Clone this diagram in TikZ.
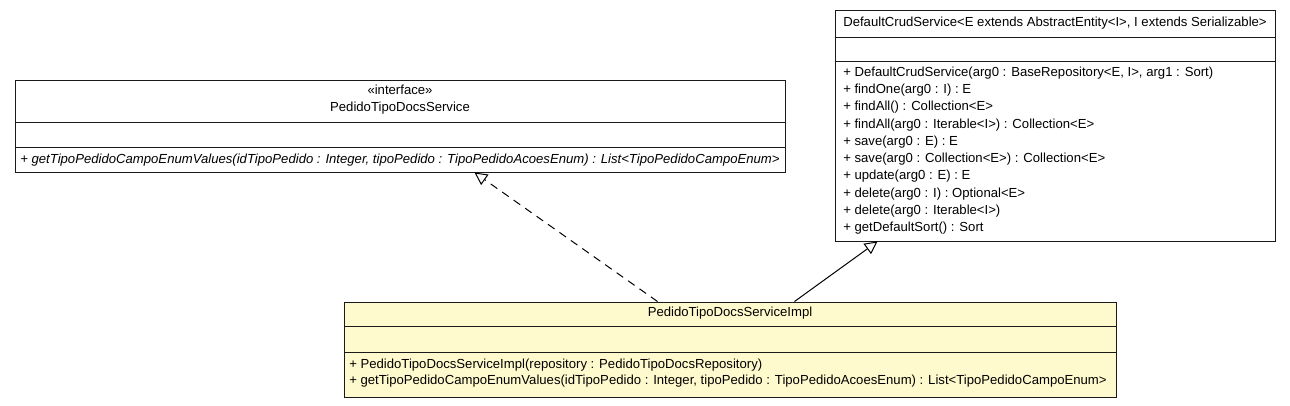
\documentclass[tikz,border=0pt]{standalone}
\usepackage{fontspec}
\setmainfont{Liberation Sans}
\usetikzlibrary{positioning,arrows.meta,calc,fit}
\definecolor{umlyellow}{HTML}{FFFACD}
\definecolor{umlline}{HTML}{1A1A1A}

\begin{document}
\begin{tikzpicture}[x=0.75pt, y=-0.75pt, font=\fontsize{9.85}{12}\selectfont,
    classbox/.style={draw=umlline, line width=0.75pt, inner sep=0pt},
    title/.style={inner sep=0pt},
    member/.style={anchor=west, inner sep=0pt},
    realize/.style={line width=0.75pt, dash pattern=on 6pt off 4.5pt, -{Triangle[open, fill=white, length=9.5pt, width=9.5pt]}},
    extend/.style={line width=0.75pt, -{Triangle[open, fill=white, length=9.5pt, width=9.5pt]}}]
  \useasboundingbox (0,0) rectangle (1290,405);

  \node[classbox, fit={(15,80) (785,172)}] (iface) {};
  \draw[umlline, line width=0.75pt] (iface.west |- 0,122) -- (iface.east |- 0,122);
  \draw[umlline, line width=0.75pt] (iface.west |- 0,147) -- (iface.east |- 0,147);
  \node[title] (ifaceStereo) at (400,90) {«interface»};
  \node[title] (ifaceName) at (400,108) {PedidoTipoDocsService};
  \node[member] (ifaceOp) at (20,160) {\itshape + getTipoPedidoCampoEnumValues(idTipoPedido : Integer, tipoPedido : TipoPedidoAcoesEnum) : List<TipoPedidoCampoEnum>};

  \node[classbox, fit={(835,10) (1275,241)}] (crud) {};
  \draw[umlline, line width=0.75pt] (crud.west |- 0,37) -- (crud.east |- 0,37);
  \draw[umlline, line width=0.75pt] (crud.west |- 0,61) -- (crud.east |- 0,61);
  \node[title] (crudName) at (1055,23) {DefaultCrudService<E extends AbstractEntity<I>, I extends Serializable>};
  \foreach \op [count=\i] in {{+ DefaultCrudService(arg0 : BaseRepository<E, I>, arg1 : Sort)},
      {+ findOne(arg0 : I) : E}, {+ findAll() : Collection<E>},
      {+ findAll(arg0 : Iterable<I>) : Collection<E>}, {+ save(arg0 : E) : E},
      {+ save(arg0 : Collection<E>) : Collection<E>}, {+ update(arg0 : E) : E},
      {+ delete(arg0 : I) : Optional<E>}, {+ delete(arg0 : Iterable<I>)},
      {+ getDefaultSort() : Sort}}
    \node[member] (crudOp\i) at (843,{73+17.25*(\i-1)}) {\op};

  \node[classbox, fill=umlyellow, fit={(344,302) (1116,397)}] (impl) {};
  \draw[umlline, line width=0.75pt] (impl.west |- 0,326) -- (impl.east |- 0,326);
  \draw[umlline, line width=0.75pt] (impl.west |- 0,352) -- (impl.east |- 0,352);
  \node[title] (implName) at (730,313) {PedidoTipoDocsServiceImpl};
  \node[member] (implOp1) at (349,365) {+ PedidoTipoDocsServiceImpl(repository : PedidoTipoDocsRepository)};
  \node[member] (implOp2) at (349,381) {+ getTipoPedidoCampoEnumValues(idTipoPedido : Integer, tipoPedido : TipoPedidoAcoesEnum) : List<TipoPedidoCampoEnum>};

  \coordinate (implReal) at ($(impl.north west)+(314,0)$);
  \coordinate (ifaceReal) at ($(iface.south west)+(460,0)$);
  \coordinate (implGen) at ($(impl.north west)+(451,0)$);
  \coordinate (crudGen) at ($(crud.south west)+(43,0)$);
  \draw[realize] (implReal) -- (ifaceReal);
  \draw[extend] (implGen) -- (crudGen);
\end{tikzpicture}
\end{document}
